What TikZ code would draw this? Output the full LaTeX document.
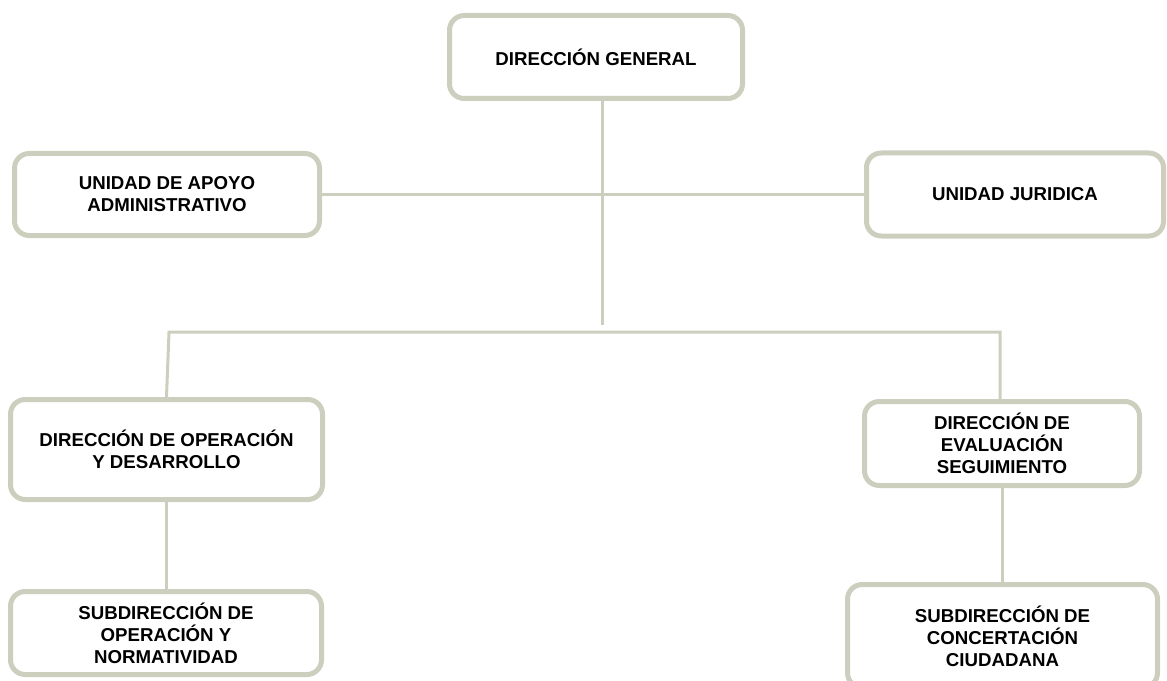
\documentclass[tikz,border=0pt]{standalone}
\usepackage{fontspec}
\setmainfont{Liberation Sans}
\definecolor{orgline}{RGB}{204,207,190}
\tikzset{
  unit/.style={draw=orgline,line width=3.75pt,rounded corners=11pt,fill=white,
    align=center,inner sep=0pt,font=\bfseries\fontsize{14}{16.5}\selectfont},
  link/.style={draw=orgline,line width=2.25pt}
}
\begin{document}
\begin{tikzpicture}[x=0.75pt,y=-0.75pt]
  \useasboundingbox (0,0) rectangle (1167,681);
  \clip (0,0) rectangle (1167,681);
  \node[unit,minimum width=219.75pt,minimum height=62.25pt] (gen) at (596,57) {DIRECCIÓN GENERAL};
  \node[unit,minimum width=228.75pt,minimum height=61.5pt] (apoyo) at (167,194.5) {UNIDAD DE APOYO\\ADMINISTRATIVO};
  \node[unit,minimum width=222.75pt,minimum height=62.25pt] (jur) at (1015,194.5) {UNIDAD JURIDICA};
  \node[unit,minimum width=234pt,minimum height=75pt] (oper) at (166.5,449.5) {DIRECCIÓN DE OPERACIÓN\\Y DESARROLLO};
  \node[unit,minimum width=206.25pt,minimum height=63pt] (eval) at (1002,443.5) {DIRECCIÓN DE\\EVALUACIÓN\\SEGUIMIENTO};
  \node[unit,minimum width=233.25pt,minimum height=62.25pt] (subop) at (166,633) {SUBDIRECCIÓN DE\\OPERACIÓN Y\\NORMATIVIDAD};
  \node[unit,minimum width=232.5pt,minimum height=77.25pt] (subcon) at (1002.5,636) {SUBDIRECCIÓN DE\\CONCERTACIÓN\\CIUDADANA};
  \coordinate (trunk) at (602,325);
  \coordinate (busL) at (169,332);
  \coordinate (busR) at (1000,332);
  \draw[link] (gen.south -| trunk) -- (trunk);
  \draw[link] (apoyo.east) -- (jur.west);
  \draw[link] (oper.north) -- (busL) -- (busR) -- (busR |- eval.north);
  \draw[link] (oper.south) -- (oper.south |- subop.north);
  \draw[link] (eval.south) -- (eval.south |- subcon.north);
\end{tikzpicture}
\end{document}
